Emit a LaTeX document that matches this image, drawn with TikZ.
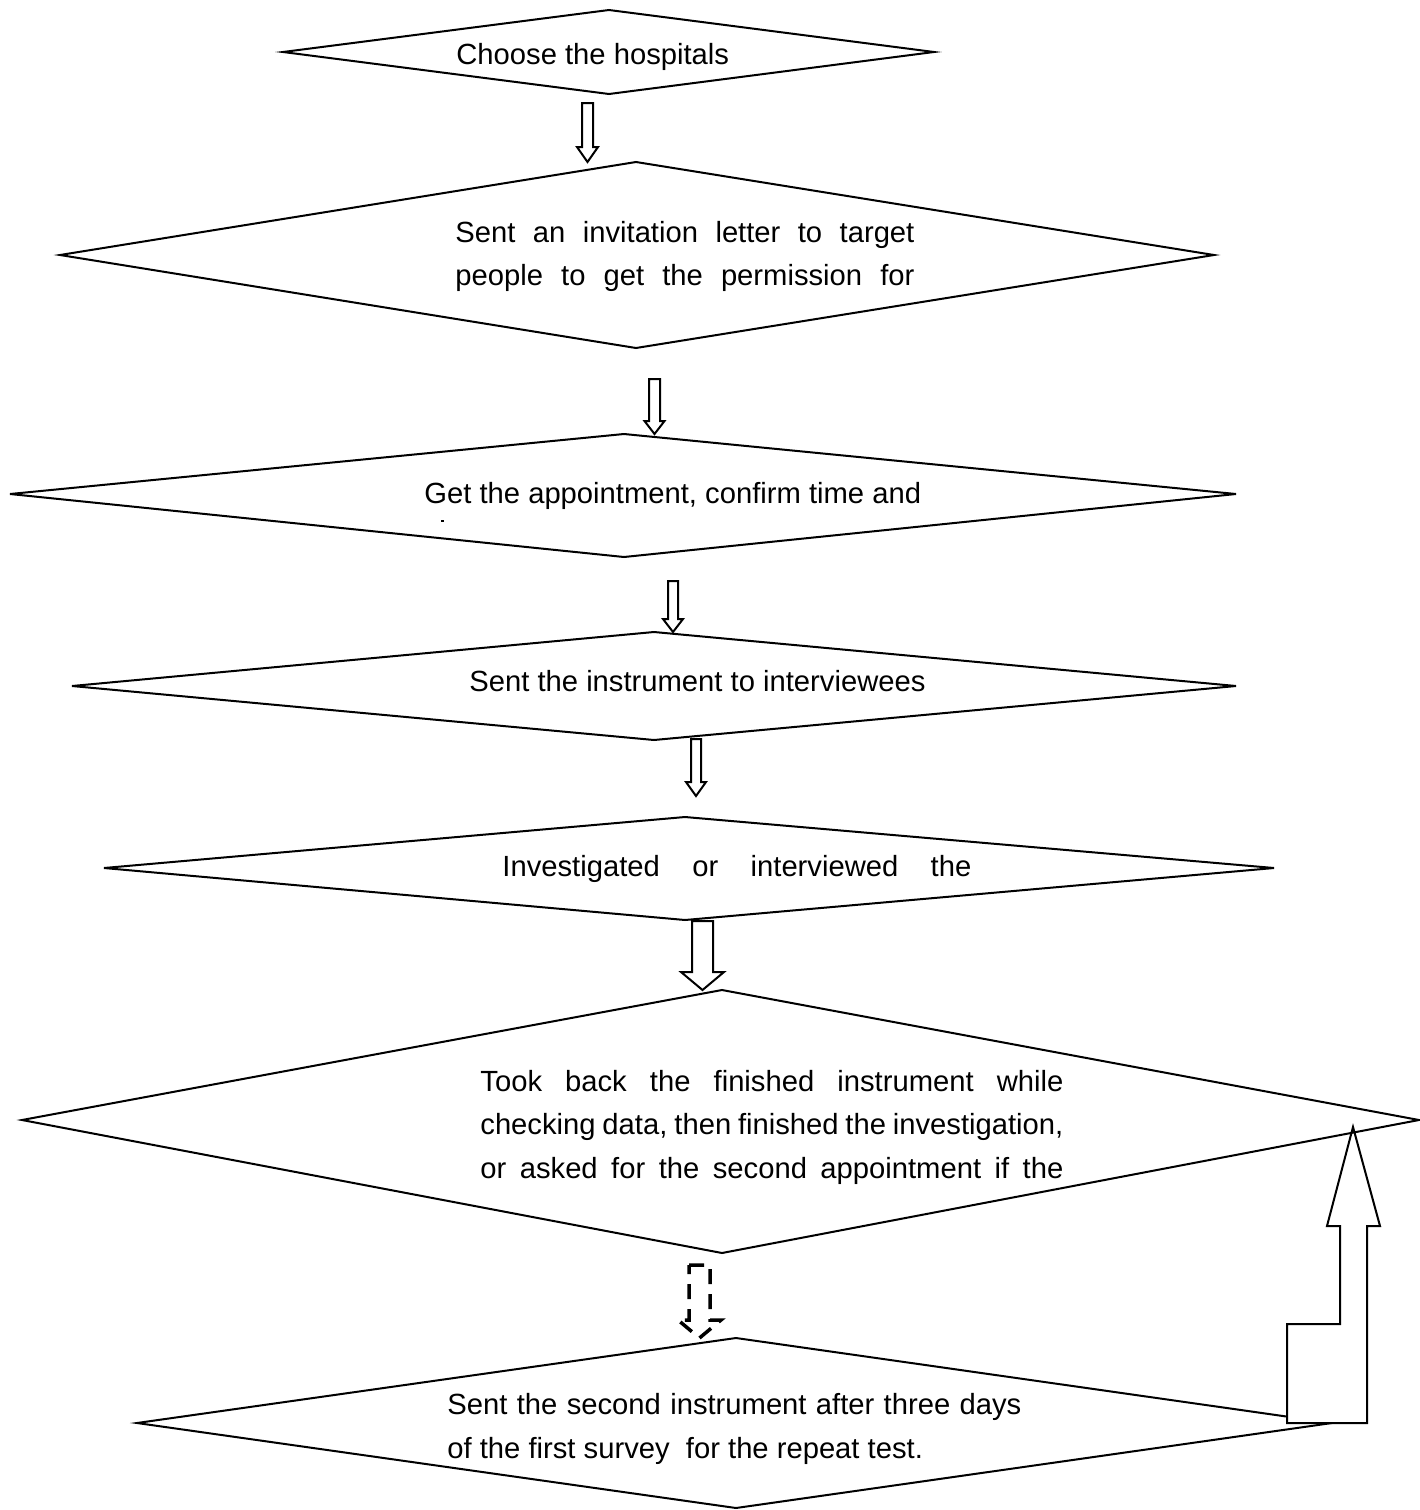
\documentclass[tikz,border=0pt]{standalone}
\usepackage{fontspec}
\setmainfont{Liberation Sans}
% hollow block arrow pointing down: style, centre x, shaft half width,
% head half width, top y, y where the head starts, tip y
\newcommand{\blockdown}[7]{%
  \draw[#1] (#2-#3,#5) -- (#2+#3,#5) -- (#2+#3,#6) -- (#2+#4,#6) -- (#2,#7)
    -- (#2-#4,#6) -- (#2-#3,#6) -- cycle;}
\begin{document}
\begin{tikzpicture}[x=0.5pt,y=-0.5pt]
\tikzset{
  stepshape/.style={draw=black, line width=1pt, line join=miter},
  blk/.style={draw=black, line width=1pt, fill=white, line join=miter},
  dashblk/.style={draw=black, line width=1.75pt, fill=white, dash pattern=on 7.5pt off 5pt},
  txt/.style={inner sep=0pt, anchor=base west, font=\fontsize{14.6}{21.8}\selectfont},
}
\useasboundingbox (0,0) rectangle (1419,1510);

% last step and the return arrow that loops back up
\draw[stepshape] (137,1423) -- (736,1338) -- (1332,1423) -- (736,1508) -- cycle;
\draw[blk] (1287,1423) -- (1287,1324) -- (1340,1324) -- (1340,1226) -- (1327,1226)
  -- (1353,1127) -- (1380,1226) -- (1367,1226) -- (1367,1423) -- cycle;

% process steps
\draw[stepshape] (283,52) -- (609,10) -- (934,52) -- (609,94) -- cycle;
\draw[stepshape] (60,255) -- (636,162) -- (1214,255) -- (636,348) -- cycle;
\draw[stepshape] (10,494) -- (624,434) -- (1236,494) -- (624,557) -- cycle;
\draw[stepshape] (72,686) -- (654,632) -- (1236,686) -- (654,740) -- cycle;
\draw[stepshape] (104,868) -- (685,817) -- (1274,868) -- (685,920) -- cycle;
\draw[stepshape] (22,1120) -- (722,990) -- (1419,1120) -- (722,1253) -- cycle;

% arrows between the steps
\blockdown{blk}{587.5}{5.5}{10.5}{103}{147}{162}
\blockdown{blk}{654.5}{5.5}{10}{379}{421}{434}
\blockdown{blk}{673}{5}{10}{581}{619}{632}
\blockdown{blk}{696}{5}{10}{739}{782}{796}
\blockdown{blk}{702.5}{10.5}{21.5}{921}{972}{990}
\blockdown{dashblk}{699.5}{10.5}{21.5}{1265}{1320}{1338}

% labels
\node[txt] (t1) at (456,64) {Choose the hospitals};
\node[txt] (t2a) at (455,242) {\makebox[229.5pt][s]{Sent an invitation letter to target}};
\node[txt] (t2b) at (455,285) {\makebox[229.5pt][s]{people to get the permission for}};
\node[txt] (t3) at (424,503) {Get the appointment, confirm time and};
\fill (440.5,520) rectangle (443.5,522);
\node[txt] (t4) at (469,691) {Sent the instrument to interviewees};
\node[txt] (t5) at (502,876) {\makebox[234.5pt][s]{Investigated or interviewed the}};
\node[txt] (t6a) at (480,1091) {\makebox[291.5pt][s]{Took back the finished instrument while}};
\node[txt] (t6b) at (480,1134) {\makebox[291.5pt][s]{checking data, then finished the investigation,}};
\node[txt] (t6c) at (480,1178) {\makebox[291.5pt][s]{or asked for the second appointment if the}};
\node[txt] (t7a) at (447,1414) {\makebox[287pt][s]{Sent the second instrument after three days}};
\node[txt] (t7b) at (447,1458) {of the first survey\ \ for the repeat test.};
\end{tikzpicture}
\end{document}
